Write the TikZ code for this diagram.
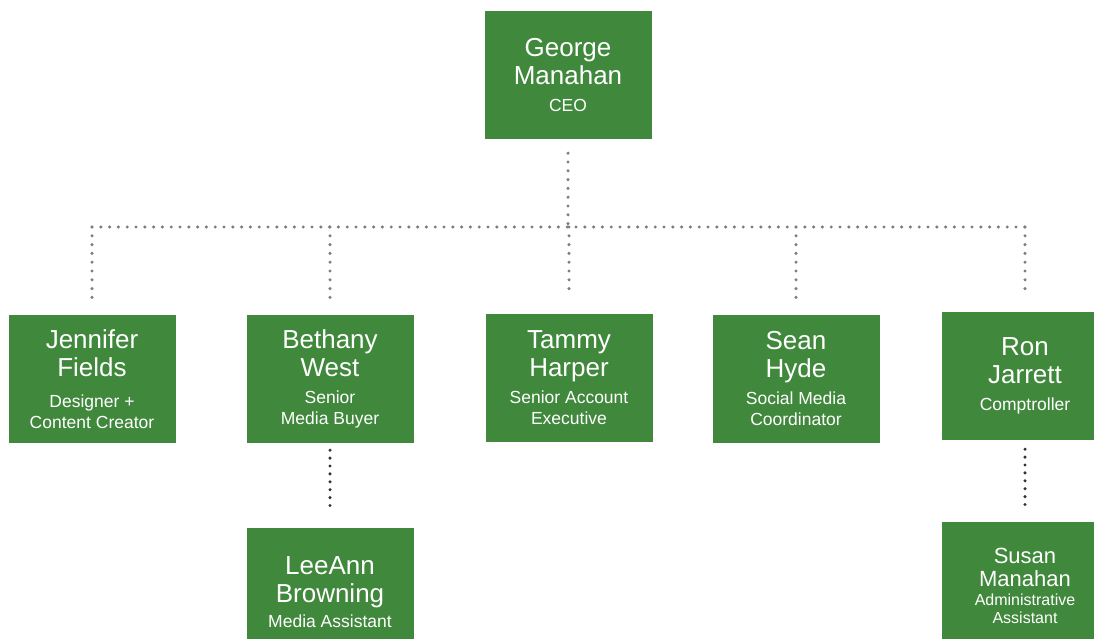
\documentclass[tikz,border=0pt]{standalone}
\usepackage{fontspec}
\setmainfont{Liberation Sans}
\usetikzlibrary{positioning}
\definecolor{staffgreen}{RGB}{64,136,60}
\definecolor{dotgrey}{RGB}{125,125,130}
\definecolor{dotdark}{RGB}{50,50,50}
\newcommand{\namefont}{\fontsize{26}{28}\selectfont}
\newcommand{\rolefont}{\fontsize{17.5}{21}\selectfont}
\newcommand{\smallname}{\fontsize{22}{23}\selectfont}
\newcommand{\smallrole}{\fontsize{16}{18}\selectfont}
\tikzset{
  staff/.style={fill=staffgreen, text=white, minimum width=167pt, minimum height=128pt,
    inner sep=0pt, align=center, font=\namefont},
  staffsmall/.style={staff, font=\smallname},
  link/.style={dotgrey, line width=3.4pt, line cap=round, dash pattern=on 0pt off 8.8pt},
  sublink/.style={link, dotdark, dash pattern=on 0pt off 7.9pt},
}
\begin{document}
\begin{tikzpicture}[x=1pt,y=-1pt]
  \useasboundingbox (0,0) rectangle (1094,639);
  % top
  \node[staff] (ceo) at (568,75) {George\\Manahan\\[-1pt]{\rolefont CEO}};
  % second row
  \node[staff] (jen)  at (92,379)  {Jennifer\\Fields\\[3pt]{\rolefont Designer +}\\[-7pt]{\rolefont Content Creator}};
  \node[staff] (beth) at (330,379) {Bethany\\West\\[-1pt]{\rolefont Senior}\\[-7pt]{\rolefont Media Buyer}};
  \node[staff] (tam)  at (569,378) {Tammy\\Harper\\[-1pt]{\rolefont Senior Account}\\[-7pt]{\rolefont Executive}};
  \node[staff] (sean) at (796,379) {Sean\\Hyde\\[-1pt]{\rolefont Social Media}\\[-7pt]{\rolefont Coordinator}};
  \node[staff] (ron)  at (1025,376) {Ron\\Jarrett\\[-1pt]{\rolefont Comptroller}};
  % third row
  \node[staff] (lee) at (330,592) {LeeAnn\\Browning\\[-3pt]{\rolefont Media Assistant}};
  \node[staffsmall] (sue) at (1025,586) {Susan\\Manahan\\[-4pt]{\smallrole Administrative}\\[-5pt]{\smallrole Assistant}};

  \coordinate (bus) at (568,227);
  \draw[link, shorten <=14pt] (ceo) -- (ceo |- bus);
  \draw[link] (jen |- bus) -- (ron |- bus);
  \foreach \p in {jen,beth,tam,sean,ron}
    \draw[link, shorten >=17pt] (\p |- bus) -- (\p.north);
  \draw[sublink, shorten <=7pt, shorten >=15pt] (beth.south) -- (lee.north);
  \draw[sublink, shorten <=9pt, shorten >=12pt] (ron.south) -- (sue.north);
\end{tikzpicture}
\end{document}
